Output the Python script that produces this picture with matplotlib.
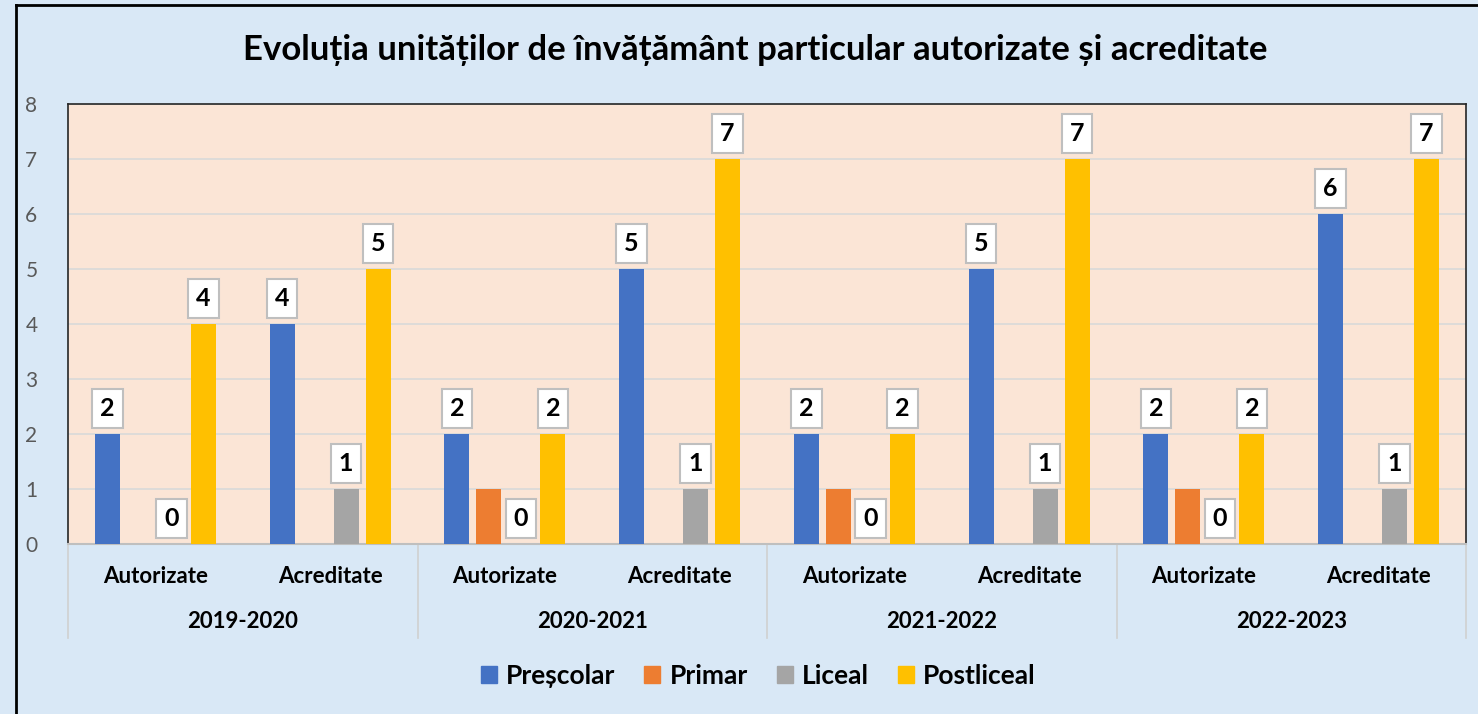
"""Evolutia unitatilor de invatamant particular - grouped bar chart."""

import matplotlib

matplotlib.use("Agg")
import matplotlib.pyplot as plt  # noqa: E402
import numpy as np  # noqa: E402
from matplotlib.lines import Line2D  # noqa: E402
from matplotlib.patches import Patch  # noqa: E402

plt.rcParams["font.family"] = ["Lato", "DejaVu Sans"]

title = "Evoluția unităților de învățământ particular autorizate și acreditate"
years = ["2019-2020", "2020-2021", "2021-2022", "2022-2023"]
kinds = ["Autorizate", "Acreditate"]
series_names = ["Preșcolar", "Primar", "Liceal", "Postliceal"]
colors = ["#4472C4", "#ED7D31", "#A5A5A5", "#FFC000"]
show_labels = [True, False, True, True]

prescolar = [2, 4, 2, 5, 2, 5, 2, 6]
primar = [np.nan, np.nan, 1, np.nan, 1, np.nan, 1, np.nan]
liceal = [0, 1, 0, 1, 0, 1, 0, 1]
postliceal = [4, 5, 2, 7, 2, 7, 2, 7]
series = [prescolar, primar, liceal, postliceal]

fig = plt.figure(figsize=(14.78, 7.14), dpi=100)
fig.patch.set_facecolor("#D9E8F6")
ax = fig.add_axes([68 / 1478, 1 - 544 / 714, 1398 / 1478, 440 / 714])
ax.set_facecolor("#FBE5D6")

x = np.arange(len(prescolar))
slot = 0.183
width = 0.143
for i, (name, values, color) in enumerate(zip(series_names, series, colors)):
    xs = x + (i - 1.5) * slot
    ax.bar(xs, values, width=width, color=color, label=name, zorder=3)
    if not show_labels[i]:
        continue
    for xi, v in zip(xs, values):
        if np.isnan(v):
            continue
        ax.annotate(
            f"{int(v)}", (xi, v), xytext=(0, 10), textcoords="offset points",
            ha="center", va="bottom", fontsize=18, fontweight="bold",
            color="black", zorder=5,
            bbox=dict(boxstyle="square,pad=0.32", fc="white", ec="#BFBFBF", lw=1.5),
        )

ax.set_xlim(-0.5, len(x) - 0.5)
ax.set_ylim(0, 8)
ax.set_yticks(range(0, 9))
ax.tick_params(axis="y", length=0, pad=22, labelsize=15, labelcolor="#595959")
ax.set_xticks([])
ax.grid(axis="y", color="#D9D9D9", lw=1.2, zorder=0)
for side in ["left", "top", "right"]:
    ax.spines[side].set_color("#262626")
    ax.spines[side].set_linewidth(1.2)
ax.spines["bottom"].set_color("#BFBFBF")
ax.spines["bottom"].set_linewidth(1.5)

trans = ax.get_xaxis_transform()
for xi in x:
    ax.text(xi, -0.073, kinds[xi % 2], transform=trans, ha="center", va="center",
            fontsize=16, fontweight="bold", color="black")
for gi, year in enumerate(years):
    ax.text(gi * 2 + 0.5, -0.175, year, transform=trans, ha="center",
            va="center", fontsize=16, fontweight="bold", color="black")
for b in range(len(years) + 1):
    ax.plot([b * 2 - 0.5] * 2, [0, -0.214], transform=trans, color="#D0D0D0",
            lw=1.2, clip_on=False)

handles = [Patch(color=c, label=n) for n, c in zip(series_names, colors)]
fig.legend(handles=handles, loc="center", bbox_to_anchor=(0.513, 1 - 676 / 714),
           ncol=4, frameon=False, handlelength=0.6, handleheight=0.6,
           handletextpad=0.35, columnspacing=1.1,
           prop={"size": 19, "weight": "bold"})

fig.text(0.511, 1 - 50 / 714, title, ha="center", va="center", fontsize=25,
         fontweight="bold", color="black")

# chart frame edges visible in the crop
fig.add_artist(Line2D([16 / 1478, 16 / 1478], [0, 1 - 5 / 714],
                      transform=fig.transFigure, color="black", lw=2))
fig.add_artist(Line2D([16 / 1478, 1], [1 - 5 / 714, 1 - 5 / 714],
                      transform=fig.transFigure, color="black", lw=2))

fig.savefig("out.png", dpi=100, facecolor=fig.get_facecolor())
